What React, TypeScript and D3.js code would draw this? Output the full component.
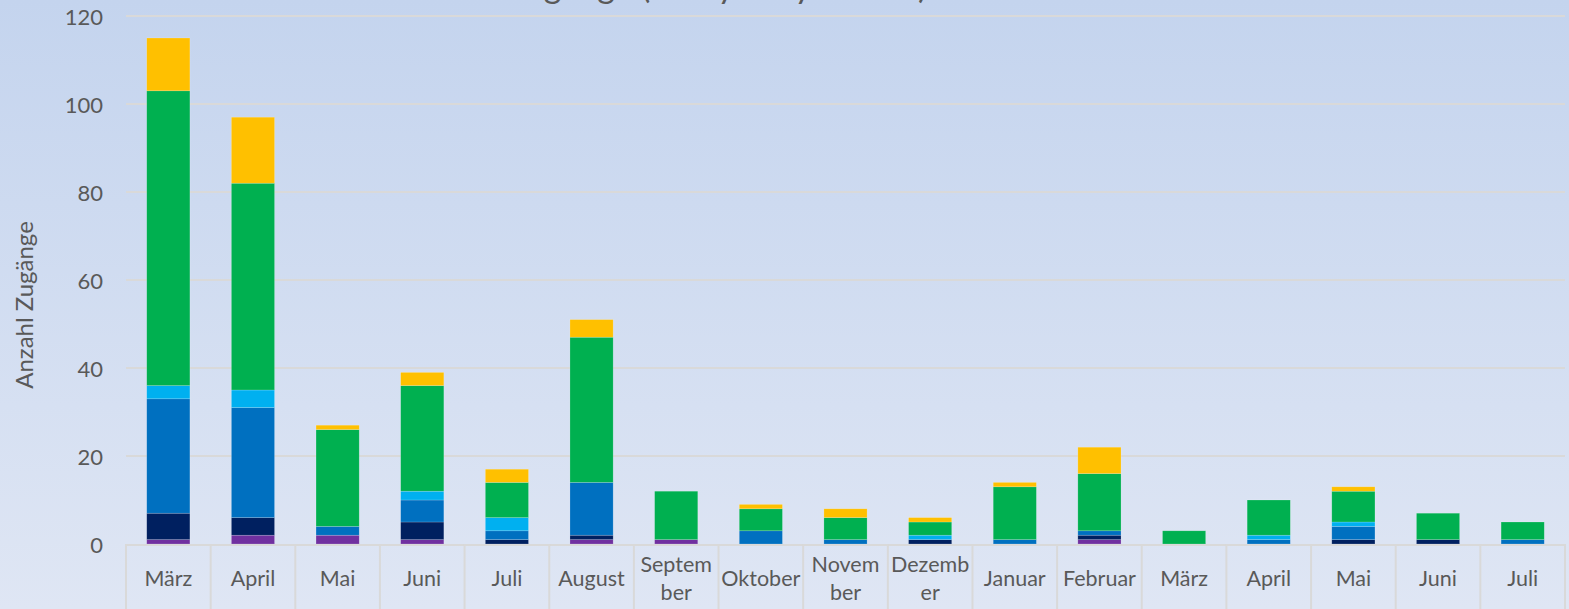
import React from "react";
import * as d3 from "d3";

const categories: string[][] = [
  ["März"], ["April"], ["Mai"], ["Juni"], ["Juli"], ["August"],
  ["Septem", "ber"], ["Oktober"], ["Novem", "ber"], ["Dezemb", "er"],
  ["Januar"], ["Februar"], ["März"], ["April"], ["Mai"], ["Juni"], ["Juli"],
];

const seriesNames = ["Gruppe 1", "Gruppe 2", "Gruppe 3", "Gruppe 4", "Gruppe 5", "Gruppe 6"];
const seriesColors = ["#7030A0", "#002060", "#0070C0", "#00B0F0", "#00B050", "#FFC000"];

const purple = [1, 2, 2, 1, 0, 1, 1, 0, 0, 0, 0, 1, 0, 0, 0, 0, 0];
const navy = [6, 4, 0, 4, 1, 1, 0, 0, 0, 1, 0, 1, 0, 0, 1, 1, 0];
const blue = [26, 25, 2, 5, 2, 12, 0, 3, 1, 0, 1, 1, 0, 1, 3, 0, 1];
const lightBlue = [3, 4, 0, 2, 3, 0, 0, 0, 0, 1, 0, 0, 0, 1, 1, 0, 0];
const green = [67, 47, 22, 24, 8, 33, 11, 5, 5, 3, 12, 13, 3, 8, 7, 6, 4];
const yellow = [12, 15, 1, 3, 3, 4, 0, 1, 2, 1, 1, 6, 0, 0, 1, 0, 0];

const yTicks = [0, 20, 40, 60, 80, 100, 120];
const title = "Zugänge (Analyse by Monat)";
const yLabel = "Anzahl Zugänge";

const W = 1569;
const H = 609;
const FONT = "Lato, 'Open Sans', sans-serif";
const TXT = "#595959";
const GRID = "#D9D9D9";

export default function App() {
  const left = 126;
  const right = 1565;
  const top = 16;
  const bottom = 544;

  const allSeries = [purple, navy, blue, lightBlue, green, yellow];
  const rows = categories.map((c, i) => {
    const r: any = { idx: i };
    seriesNames.forEach((n, s) => (r[n] = allSeries[s][i]));
    return r;
  });
  const stacked = d3.stack<any>().keys(seriesNames)(rows);

  const x = d3
    .scaleBand<number>()
    .domain(categories.map((_, i) => i))
    .range([left, right])
    .paddingInner(0)
    .paddingOuter(0);
  const bw = x.bandwidth() * 0.51;
  const y = d3.scaleLinear().domain([0, 120]).range([bottom, top]);

  return (
    <svg
      width={W}
      height={H}
      style={{ position: "absolute", left: 0, top: 0, display: "block" }}
      fontFamily={FONT}
    >
      <defs>
        <linearGradient id="bg" x1="0" y1="0" x2="0" y2="1">
          <stop offset="0" stopColor="#C4D4EE" />
          <stop offset="1" stopColor="#DFE6F4" />
        </linearGradient>
      </defs>
      <rect x={0} y={0} width={W} height={H} fill="url(#bg)" />

      {/* title (mostly clipped at top, as in the original) */}
      <text x={505} y={-2} fontSize={34} fill={TXT}>
        {title}
      </text>

      {/* gridlines */}
      {yTicks.filter((t) => t > 0).map((t) => (
        <line key={t} x1={left} x2={right} y1={y(t)} y2={y(t)} stroke={GRID} strokeWidth={2} />
      ))}

      {/* y tick labels */}
      {yTicks.map((t) => (
        <text
          key={t}
          x={103}
          y={y(t)}
          textAnchor="end"
          dominantBaseline="central"
          fontSize={22}
          fill={TXT}
        >
          {t}
        </text>
      ))}

      {/* y axis title */}
      <text
        transform={`translate(23, 305) rotate(-90)`}
        textAnchor="middle"
        dominantBaseline="central"
        fontSize={24}
        fill={TXT}
      >
        {yLabel}
      </text>

      {/* bars */}
      {stacked.map((layer, s) => (
        <g key={layer.key} fill={seriesColors[s]}>
          {layer.map((d, i) => {
            const h = y(d[0]) - y(d[1]);
            if (h <= 0) return null;
            return (
              <rect
                key={i}
                x={(x(i) as number) + (x.bandwidth() - bw) / 2}
                y={y(d[1])}
                width={bw}
                height={h}
                stroke="rgba(255,255,255,0.3)"
                strokeWidth={0.6}
              />
            );
          })}
        </g>
      ))}

      {/* category axis */}
      <line x1={left - 1} x2={right + 1} y1={bottom + 1} y2={bottom + 1} stroke={GRID} strokeWidth={2} />
      {d3.range(categories.length + 1).map((i) => {
        const xx = i < categories.length ? (x(i) as number) : right;
        return (
          <line key={i} x1={xx} x2={xx} y1={bottom} y2={H} stroke={GRID} strokeWidth={2} />
        );
      })}
      {categories.map((lines, i) => {
        const cx = (x(i) as number) + x.bandwidth() / 2;
        const lh = 28;
        const y0 = 578 - ((lines.length - 1) * lh) / 2;
        return (
          <text key={i} textAnchor="middle" fontSize={21.5} fill={TXT}>
            {lines.map((ln, k) => (
              <tspan key={k} x={cx} y={y0 + k * lh} dominantBaseline="central">
                {ln}
              </tspan>
            ))}
          </text>
        );
      })}
    </svg>
  );
}
